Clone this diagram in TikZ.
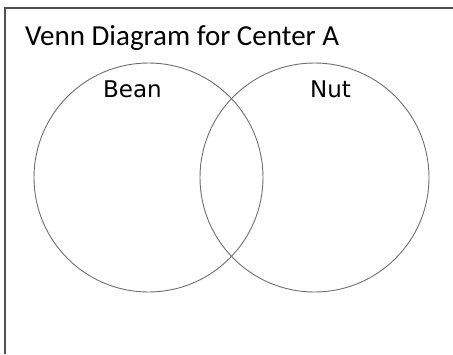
\documentclass[tikz,border=0pt]{standalone}
\usepackage{fontspec}
\setmainfont{Carlito}
\newfontfamily\labelfont{DejaVu Sans}
\usepackage{tikz}

\begin{document}
\begin{tikzpicture}[x=1pt, y=-1pt]

% Colori
\definecolor{frameGray}{HTML}{505050}
\definecolor{ringGray}{HTML}{6E6E6E}

% Area della pagina
\useasboundingbox (0,0) rectangle (453,354);

% Cornice (solo sinistra e alto)
\coordinate (fBL) at (5,354);
\coordinate (fTL) at (5,7.5);
\coordinate (fTR) at (453,7.5);
\draw[frameGray, line width=2pt] (fBL) -- (fTL) -- (fTR);

% Titolo
\node[anchor=base west, inner sep=0pt, font=\fontsize{29}{33}\selectfont] (title) at (25,45) {Venn Diagram for Center A};

% Cerchi
\node[circle, draw=ringGray, line width=0.9pt, minimum size=229pt, inner sep=0pt] (bean) at (148.5,177.5) {};
\node[circle, draw=ringGray, line width=0.9pt, minimum size=229pt, inner sep=0pt] (nut) at (314.5,177.5) {};

% Etichette
\node[anchor=base, inner sep=0pt, font=\labelfont\fontsize{23}{27}\selectfont] (beanLabel) at (132.5,97) {Bean};
\node[anchor=base, inner sep=0pt, font=\labelfont\fontsize{23}{27}\selectfont] (nutLabel) at (330.5,97) {Nut};

\end{tikzpicture}
\end{document}
